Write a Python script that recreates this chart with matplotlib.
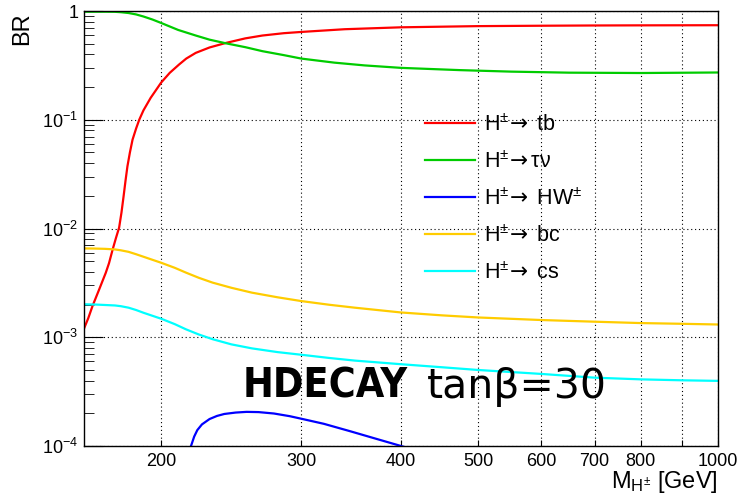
import numpy as np
import matplotlib
matplotlib.use('Agg')
import matplotlib.pyplot as plt
from matplotlib.ticker import FixedLocator, FixedFormatter, NullLocator, LogLocator

plt.rcParams['font.family'] = ['Liberation Sans', 'DejaVu Sans']
plt.rcParams['mathtext.fontset'] = 'custom'
plt.rcParams['mathtext.rm'] = 'Liberation Sans'
plt.rcParams['mathtext.it'] = 'Liberation Sans:italic'
plt.rcParams['mathtext.sf'] = 'DejaVu Sans'

# H+ -> tb
mass_tb = [160, 162, 164, 167, 170.4, 172, 173.8, 175.5, 177.1, 178.3, 179.4, 180.4, 181.4,
           182.7, 184.1, 186, 187.7, 190, 194, 200, 205, 210.6, 215, 221, 230, 241, 255,
           268, 285, 300, 340, 400, 500, 600, 700, 800, 1000]
br_tb = [1.2e-3, 1.5e-3, 1.94e-3, 2.7e-3, 3.92e-3, 4.8e-3, 6.4e-3, 8.2e-3, 1.02e-2, 1.4e-2,
         1.98e-2, 2.75e-2, 3.73e-2, 5.0e-2, 6.56e-2, 8.3e-2, 0.1, 0.122, 0.159, 0.22, 0.27,
         0.322, 0.365, 0.412, 0.462, 0.508, 0.56, 0.595, 0.625, 0.642, 0.68, 0.708, 0.726,
         0.732, 0.736, 0.738, 0.740]

# H+ -> tau nu
mass_taunu = [160, 170, 175, 178, 182, 186, 190, 195, 200, 210, 221, 230, 241, 255, 268,
              285, 300, 330, 360, 400, 474, 550, 650, 800, 1000]
br_taunu = [0.985, 0.985, 0.983, 0.975, 0.958, 0.93, 0.89, 0.835, 0.776, 0.67, 0.595,
            0.545, 0.505, 0.465, 0.427, 0.393, 0.365, 0.335, 0.316, 0.300, 0.286, 0.277,
            0.271, 0.269, 0.272]

# H+ -> h W+
mass_hw = [214, 216, 218, 220, 222, 225, 230, 235, 240, 248, 256, 265, 277, 290, 300, 320,
           345, 370, 400, 420]
br_hw = [7e-5, 8.5e-5, 1.0e-4, 1.22e-4, 1.40e-4, 1.58e-4, 1.77e-4, 1.89e-4, 1.97e-4,
         2.03e-4, 2.06e-4, 2.05e-4, 1.99e-4, 1.88e-4, 1.78e-4, 1.6e-4, 1.37e-4, 1.18e-4,
         1.0e-4, 9e-5]

# H+ -> bc, H+ -> cs
mass_light = [160, 165, 170, 175, 178, 182, 186, 190, 200, 208, 215, 223, 232, 245, 260,
              280, 300, 325, 350, 400, 450, 500, 600, 700, 800, 900, 1000]
br_bc = [6.56e-3, 6.54e-3, 6.5e-3, 6.42e-3, 6.3e-3, 6.1e-3, 5.8e-3, 5.5e-3, 4.84e-3,
         4.35e-3, 3.92e-3, 3.52e-3, 3.18e-3, 2.85e-3, 2.57e-3, 2.33e-3, 2.15e-3, 1.99e-3,
         1.87e-3, 1.69e-3, 1.59e-3, 1.52e-3, 1.44e-3, 1.39e-3, 1.35e-3, 1.33e-3, 1.31e-3]
br_cs = [2.01e-3, 2.0e-3, 1.98e-3, 1.96e-3, 1.93e-3, 1.87e-3, 1.78e-3, 1.68e-3, 1.48e-3,
         1.32e-3, 1.18e-3, 1.06e-3, 9.6e-4, 8.6e-4, 7.9e-4, 7.3e-4, 6.9e-4, 6.45e-4,
         6.1e-4, 5.65e-4, 5.3e-4, 5.0e-4, 4.6e-4, 4.25e-4, 4.1e-4, 4.02e-4, 3.97e-4]

x_ticks = [200, 300, 400, 500, 600, 700, 800, 900, 1000]
x_labels = ['200', '300', '400', '500', '600', '700', '800', '', '1000']
y_ticks = [1e-4, 1e-3, 1e-2, 1e-1, 1]
y_labels = ['$10^{-4}$', '$10^{-3}$', '$10^{-2}$', '$10^{-1}$', '1']

fig = plt.figure(figsize=(7.42, 4.99), dpi=100)
ax = fig.add_axes([84/742, 53/499, 634/742, 435/499])

arrow = r'$^{\pm}\!\mathsf{\rightarrow}$'
lw = 1.6
ax.plot(mass_tb, br_tb, color='#ff0000', lw=lw, label='H' + arrow + ' tb')
ax.plot(mass_taunu, br_taunu, color='#00cc00', lw=lw, label='H' + arrow + 'τν')
ax.plot(mass_hw, br_hw, color='#0000ff', lw=lw, label='H' + arrow + ' HW$^{\\pm}$')
ax.plot(mass_light, br_bc, color='#ffcc00', lw=lw, label='H' + arrow + ' bc')
ax.plot(mass_light, br_cs, color='#00ffff', lw=lw, label='H' + arrow + ' cs')

ax.set_xscale('log')
ax.set_yscale('log')
ax.set_xlim(160, 1000)
ax.set_ylim(1e-4, 1)

ax.xaxis.set_major_locator(FixedLocator(x_ticks))
ax.xaxis.set_major_formatter(FixedFormatter(x_labels))
ax.xaxis.set_minor_locator(NullLocator())
ax.yaxis.set_major_locator(FixedLocator(y_ticks))
ax.yaxis.set_major_formatter(FixedFormatter(y_labels))
ax.yaxis.set_minor_locator(LogLocator(base=10, subs=np.arange(2, 10)))

ax.tick_params(axis='x', which='major', direction='in', length=4, labelsize=13, pad=5, top=False)
ax.tick_params(axis='y', which='major', direction='in', length=14, labelsize=13, pad=4, right=False)
ax.tick_params(axis='y', which='minor', direction='in', length=7, right=False)

ax.grid(True, which='major', color='black', linestyle=(0, (1, 2.5)), linewidth=0.8)

for s in ax.spines.values():
    s.set_linewidth(1.0)

fig.text(22/742, 1 - 12/499, 'BR', rotation=90, ha='center', va='top', fontsize=17)
fig.text(718/742, 1 - 488/499, r'M$_{\mathregular{H^{\pm}}}$ [GeV]', ha='right',
         va='baseline', fontsize=17)

fig.text(243/742, 1 - 398/499, 'HDECAY', family='DejaVu Sans', weight='bold',
         stretch='condensed', fontsize=29.5, va='baseline', ha='left')
fig.text(427/742, 1 - 398/499, 'tanβ=30', family='DejaVu Sans', fontsize=29.5,
         va='baseline', ha='left')

ax.legend(loc='upper left', bbox_to_anchor=(425/742, 1 - 114.5/499),
          bbox_transform=fig.transFigure, frameon=False, borderpad=0, borderaxespad=0,
          handlelength=2.3, handletextpad=0.45, labelspacing=0.72, fontsize=15.5)

fig.savefig('out.png', dpi=100)
